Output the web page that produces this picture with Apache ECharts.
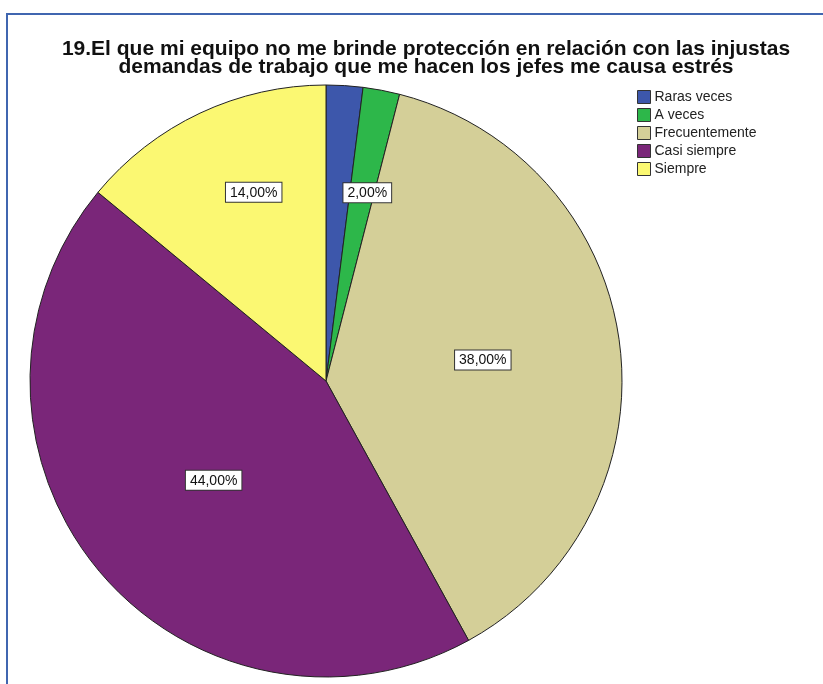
<!DOCTYPE html>
<html>
<head>
<meta charset="utf-8">
<script src="https://cdn.jsdelivr.net/npm/echarts@6/dist/echarts.min.js"></script>
<style>
  html, body { margin: 0; padding: 0; background: #fff; }
  #chart { width: 823px; height: 684px; }
</style>
</head>
<body>
<div id="chart"></div>
<script>
// Response categories and their shares (%)
const categories = ['Raras veces', 'A veces', 'Frecuentemente', 'Casi siempre', 'Siempre'];
const percents = [2, 2, 38, 44, 14];
const sliceColors = ['#3D57AB', '#2DB74A', '#D4CF98', '#7A2679', '#FBF872'];
const chartTitle = '19.El que mi equipo no me brinde protección en relación con las injustas\ndemandas de trabajo que me hacen los jefes me causa estrés';

// Nudges [dx, dy] (px) applied to the value boxes relative to the slice mid-radius
const labelShift = {
  'A veces': [13, -40],
  'Frecuentemente': [7, -2],
  'Casi siempre': [4, 3],
  'Siempre': [-8, -52]
};
const hiddenLabels = ['Raras veces'];

const fmt = v => v.toFixed(2).replace('.', ',') + '%';

// Builds a rich-text label; invisible spacer tokens move the boxed value off-centre
function labelText(name, value) {
  const [dx, dy] = labelShift[name] || [0, 0];
  let line = '{box|' + fmt(value) + '}';
  if (dx > 0) line = '{padA| }' + line;
  if (dx < 0) line = line + '{padB| }';
  if (dy < 0) line = line + '\n{gapB| }';
  if (dy > 0) line = '{gapA| }\n' + line;
  return line;
}

function labelRich(name) {
  const [dx, dy] = labelShift[name] || [0, 0];
  const w = Math.abs(dx) * 2, h = Math.abs(dy) * 2;
  return {
    box: {
      fontFamily: 'Liberation Sans, Arial, sans-serif',
      fontSize: 14,
      color: '#111',
      backgroundColor: '#fff',
      borderColor: '#333',
      borderWidth: 1,
      padding: [3, 4, 2, 4],
      lineHeight: 15
    },
    padA: { width: w, fontSize: 1, lineHeight: 1 },
    padB: { width: w, fontSize: 1, lineHeight: 1 },
    gapA: { height: h, lineHeight: h, fontSize: 1 },
    gapB: { height: h, lineHeight: h, fontSize: 1 }
  };
}

const chart = echarts.init(document.getElementById('chart'), null, { renderer: 'canvas' });

const pieData = categories.map((name, i) => ({
  name,
  value: percents[i],
  itemStyle: { color: sliceColors[i] },
  label: {
    show: hiddenLabels.indexOf(name) < 0,
    formatter: labelText(name, percents[i]),
    rich: labelRich(name)
  }
}));

chart.setOption({
  animation: false,
  backgroundColor: '#fff',
  graphic: [
    {
      type: 'rect',
      shape: { x: 7, y: 14, width: 840, height: 700 },
      style: { fill: 'none', stroke: '#4066B0', lineWidth: 2 },
      silent: true
    },
    {
      // two-line heading
      type: 'text',
      x: 426,
      y: 40,
      silent: true,
      style: {
        text: chartTitle,
        textAlign: 'center',
        textVerticalAlign: 'top',
        fontFamily: 'Liberation Sans, Arial, sans-serif',
        fontSize: 21,
        fontWeight: 'bold',
        lineHeight: 18,
        fill: '#111'
      }
    }
  ],
  legend: {
    orient: 'vertical',
    left: 637,
    top: 90,
    padding: 0,
    itemWidth: 13,
    itemHeight: 13,
    itemGap: 4,
    icon: 'rect',
    selectedMode: false,
    itemStyle: { borderColor: '#333', borderWidth: 1 },
    textStyle: {
      fontFamily: 'Liberation Sans, Arial, sans-serif',
      fontSize: 14,
      lineHeight: 13,
      color: '#222',
      padding: [0, 0, 0, -1]
    },
    data: categories
  },
  series: [{
    type: 'pie',
    center: [326, 381],
    radius: [0, 296],
    startAngle: 90,
    clockwise: true,
    avoidLabelOverlap: false,
    itemStyle: { borderColor: '#222', borderWidth: 1 },
    label: { position: 'inside' },
    labelLine: { show: false },
    emphasis: { disabled: true },
    data: pieData
  }]
});
</script>
</body>
</html>
